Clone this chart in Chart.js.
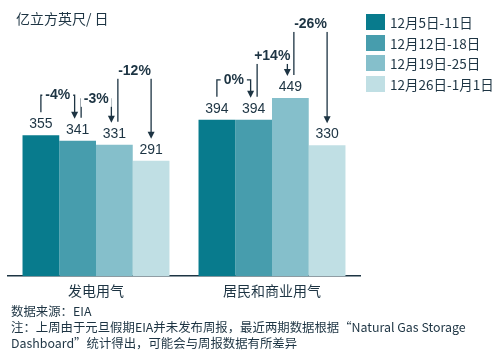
<!DOCTYPE html>
<html>
<head>
<meta charset="utf-8">
<script src="https://cdn.jsdelivr.net/npm/chart.js@4"></script>
<style>
  html, body { margin: 0; padding: 0; background: #ffffff; }
  body { width: 504px; height: 356px; position: relative; overflow: hidden;
         font-family: "Noto Sans CJK SC", "Noto Sans", sans-serif; color: #1d3443; }
  #c { position: absolute; left: 0; top: 0; }
  #title { position: absolute; left: 16px; top: 8px; font-size: 14px; line-height: 20px; }
  #legend { position: absolute; left: 366px; top: 14px; }
  .li { display: flex; align-items: center; height: 16px; margin-bottom: 4.7px; }
  .sw { width: 19px; height: 16px; margin-right: 5px; }
  .lt { font-size: 13.5px; line-height: 16px; white-space: nowrap; }
  #foot { position: absolute; left: 11px; top: 303px; font-size: 12.4px; line-height: 16px; white-space: nowrap; }
</style>
</head>
<body>
<canvas id="c" width="504" height="356"></canvas>
<div id="title">亿立方英尺/ 日</div>
<div id="legend"></div>
<div id="foot">数据来源：EIA<br>注：上周由于元旦假期EIA并未发布周报，最近两期数据根据“Natural Gas Storage<br>Dashboard”统计得出，可能会与周报数据有所差异</div>
<script>
// ---- data ----
const categories = ['发电用气', '居民和商业用气'];
const seriesLabels = ['12月5日-11日', '12月12日-18日', '12月19日-25日', '12月26日-1月1日'];
const week1 = [355, 394];
const week2 = [341, 394];
const week3 = [331, 449];
const week4 = [291, 330];
const changeLabels = [['-4%', '-3%', '-12%'], ['0%', '+14%', '-26%']];

// ---- styles ----
const seriesColors = ['#087b8d', '#479dad', '#85bfcb', '#c0dfe4'];
const ink = '#1d3443';
const bracketLift = [40, 42, 74];

const seriesValues = [week1, week2, week3, week4];

// HTML legend
const legendEl = document.getElementById('legend');
seriesLabels.forEach((lab, i) => {
  const row = document.createElement('div');
  row.className = 'li';
  const sw = document.createElement('div');
  sw.className = 'sw';
  sw.style.background = seriesColors[i];
  const t = document.createElement('span');
  t.className = 'lt';
  t.textContent = lab;
  row.appendChild(sw); row.appendChild(t);
  legendEl.appendChild(row);
});

const annotate = {
  id: 'annotate',
  afterDatasetsDraw(chart) {
    const ctx = chart.ctx;
    const metas = seriesValues.map((_, i) => chart.getDatasetMeta(i));
    ctx.save();
    // value labels
    ctx.fillStyle = ink;
    ctx.font = '14px "Liberation Sans", Arial, sans-serif';
    ctx.textAlign = 'center';
    ctx.textBaseline = 'middle';
    metas.forEach((m, i) => {
      m.data.forEach((bar, j) => {
        ctx.fillText(String(seriesValues[i][j]), bar.x, bar.y - 11);
      });
    });
    // change brackets
    ctx.strokeStyle = ink;
    ctx.lineWidth = 1.3;
    for (let j = 0; j < categories.length; j++) {
      for (let k = 0; k < seriesValues.length - 1; k++) {
        const a = metas[k].data[j], b = metas[k + 1].data[j];
        const xl = a.x + (k > 0 ? 3.5 : 0);
        const xr = b.x - (k + 1 < seriesValues.length - 1 ? 3 : 0);
        const level = Math.min(a.y, b.y) - bracketLift[k];
        const leftBottom = a.y - 23;
        const tip = b.y - 22;
        ctx.beginPath();
        ctx.moveTo(xl, leftBottom);
        ctx.lineTo(xl, level);
        ctx.lineTo(xr, level);
        ctx.lineTo(xr, tip - 6);
        ctx.stroke();
        ctx.beginPath();
        ctx.moveTo(xr - 3.5, tip - 7);
        ctx.lineTo(xr + 3.5, tip - 7);
        ctx.lineTo(xr, tip);
        ctx.closePath();
        ctx.fillStyle = ink;
        ctx.fill();
        // label
        const txt = changeLabels[j][k];
        ctx.font = 'bold 14px "Liberation Sans", Arial, sans-serif';
        const w = ctx.measureText(txt).width;
        const cx = (xl + xr) / 2;
        ctx.fillStyle = '#ffffff';
        ctx.fillRect(cx - w / 2 - 3, level - 8, w + 6, 16);
        ctx.fillStyle = ink;
        ctx.fillText(txt, cx, level);
      }
    }
    ctx.restore();
  }
};

new Chart(document.getElementById('c'), {
  type: 'bar',
  data: {
    labels: categories,
    datasets: seriesValues.map((vals, i) => ({
      label: seriesLabels[i],
      data: vals,
      backgroundColor: seriesColors[i],
      borderWidth: 0,
      barPercentage: 1,
      categoryPercentage: 0.835
    }))
  },
  options: {
    responsive: false,
    devicePixelRatio: 1,
    animation: false,
    layout: { padding: { left: 8, right: 144, top: 38, bottom: 51 } },
    plugins: { legend: { display: false }, tooltip: { enabled: false } },
    scales: {
      y: { display: false, min: 0, max: 600 },
      x: {
        grid: { display: false, drawTicks: false },
        border: { display: true, color: ink, width: 1.5 },
        ticks: { color: ink, padding: 6, font: { size: 14, family: '"Noto Sans CJK SC", sans-serif' } }
      }
    }
  },
  plugins: [annotate]
});
</script>
</body>
</html>
